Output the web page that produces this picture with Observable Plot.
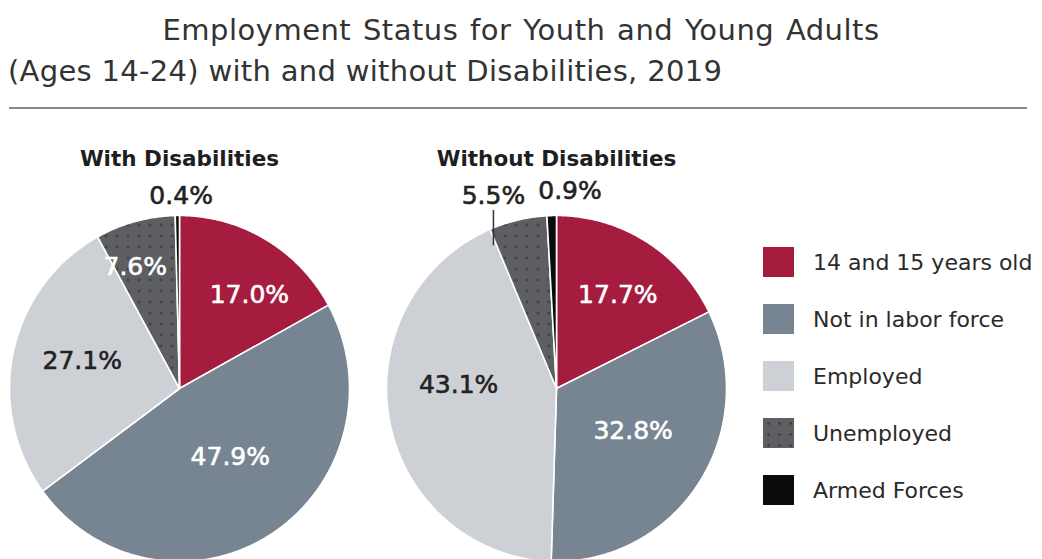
<!DOCTYPE html>
<html>
<head>
<meta charset="utf-8">
<script src="https://cdn.jsdelivr.net/npm/d3@7"></script>
<script src="https://cdn.jsdelivr.net/npm/@observablehq/plot@0.6"></script>
<style>
  html, body { margin: 0; padding: 0; background: #fff; }
  body { width: 1042px; height: 559px; overflow: hidden; position: relative; font-family: "DejaVu Sans", sans-serif; }
  .t1 { position: absolute; left: 0; width: 1042px; top: 16px; text-align: center; font-size: 29px; line-height: 29px; letter-spacing: 0.5px; word-spacing: 2px; color: #333; white-space: nowrap; }
  .t2 { position: absolute; left: 8px; top: 57px; font-size: 29px; line-height: 29px; letter-spacing: 0.3px; color: #333; white-space: nowrap; }
  .rule { position: absolute; left: 9px; top: 107px; width: 1018px; height: 2px; background: #7f8a97; }
  .pie { position: absolute; top: 120px; }
  .legend { position: absolute; left: 763px; top: 0; }
  .legend .row { position: absolute; left: 0; display: flex; align-items: center; white-space: nowrap; }
  .legend .row span { margin-left: 19px; font-size: 22px; color: #2a2a2a; }
  .pie text.lab { paint-order: stroke; }
</style>
</head>
<body>
<svg width="0" height="0" style="position:absolute">
  <defs>
    <pattern id="dots" width="11" height="11" patternUnits="userSpaceOnUse">
      <rect width="11" height="11" fill="#5e5f63"></rect>
      <circle cx="5.5" cy="5.5" r="1.3" fill="#38393c"></circle>
    </pattern>
  </defs>
</svg>
<div class="t1">Employment Status for Youth and Young Adults</div>
<div class="t2">(Ages 14-24) with and without Disabilities, 2019</div>
<div class="rule"></div>
<div id="left" class="pie" style="left:1px"></div>
<div id="right" class="pie" style="left:378px"></div>
<div id="legend" class="legend"></div>
<script>
// ---- data ----
const categories = ["14 and 15 years old", "Not in labor force", "Employed", "Unemployed", "Armed Forces"];
const withDisabilities = [17.0, 47.9, 27.1, 7.6, 0.4];
const withoutDisabilities = [17.7, 32.8, 43.1, 5.5, 0.9];
const labelsWith = ["17.0%", "47.9%", "27.1%", "7.6%", "0.4%"];
const labelsWithout = ["17.7%", "32.8%", "43.1%", "5.5%", "0.9%"];
const pieTitles = ["With Disabilities", "Without Disabilities"];

// ---- styles / layout ----
const fills = ["#a51c3e", "#778491", "#cdd1d6", "url(#dots)", "#0b0b0b"];
const labelColorsWith = ["#fff", "#fff", "#222", "#fff", "#222"];
const labelColorsWithout = ["#fff", "#fff", "#222", "#222", "#222"];
const layoutWith = [
  {r: 0.68, dx: 11, dy: 8}, {r: 0.5, dx: 5, dy: -4}, {r: 0.58, dx: -1, dy: -6},
  {r: 0.727, dx: -12, dy: 0}, {r: 1.115, dx: 4, dy: 0}
];
const layoutWithout = [
  {r: 0.65, dx: 3, dy: 2}, {r: 0.55, dx: -2, dy: -9}, {r: 0.58, dx: -1, dy: -22},
  {r: 1.14, dx: -19, dy: 0, leader: [1.06, 0.85]}, {r: 1.14, dx: 19, dy: 0}
];
const RX = 170, RY = 173, M = 8, MT = 95, MB = 10;

function makePie(values, labels, labelColors, layout, title) {
  const total = d3.sum(values);
  let acc = 0;
  const slices = values.map((v, i) => {
    const a0 = acc / total * 360; acc += v;
    const a1 = acc / total * 360;
    return {cat: categories[i], a0, a1, mid: (a0 + a1) / 2, label: labels[i], color: labelColors[i], ...layout[i]};
  });
  const rad = a => a * Math.PI / 180;
  const pts = [];
  for (const s of slices) {
    const n = Math.max(2, Math.ceil((s.a1 - s.a0) / 0.5));
    pts.push({cat: s.cat, x: 0, y: 0});
    for (let k = 0; k <= n; k++) {
      const a = rad(s.a0 + (s.a1 - s.a0) * k / n);
      pts.push({cat: s.cat, x: Math.sin(a), y: Math.cos(a)});
    }
    pts.push({cat: s.cat, x: 0, y: 0});
  }
  const lab = slices.map(s => ({...s, x: Math.sin(rad(s.mid)) * s.r, y: Math.cos(rad(s.mid)) * s.r}));
  const leaders = lab.filter(s => s.leader).map(s => ({
    x: s.x, y1: Math.cos(rad(s.mid)) * s.leader[0], y2: Math.cos(rad(s.mid)) * s.leader[1], dx: s.dx
  }));
  const marks = [
    Plot.line(pts, {x: "x", y: "y", z: "cat", fill: "cat", stroke: "#fff", strokeWidth: 1.6, strokeLinejoin: "round"}),
    Plot.text([title], {frameAnchor: "top", dy: -65, text: d => d, fontSize: 21.5, fontWeight: "bold", fill: "#1e1e1e"})
  ];
  for (const l of leaders) {
    marks.push(Plot.link([l], {x1: "x", x2: "x", y1: "y1", y2: "y2", dx: l.dx, stroke: "#333", strokeWidth: 1.5}));
  }
  for (const s of lab) {
    marks.push(Plot.text([s], {x: "x", y: "y", text: "label", dx: s.dx, dy: s.dy, fill: s.color,
      stroke: s.color, strokeWidth: 0.6, fontSize: 25, className: "lab"}));
  }
  return Plot.plot({
    width: 2 * RX + 2 * M,
    height: MT + 2 * RY + MB,
    marginLeft: M, marginRight: M, marginTop: MT, marginBottom: MB,
    x: {domain: [-1, 1], axis: null},
    y: {domain: [-1, 1], axis: null},
    color: {domain: categories, range: fills},
    style: {fontFamily: "DejaVu Sans", overflow: "visible", background: "transparent"},
    marks
  });
}

document.getElementById("left").appendChild(makePie(withDisabilities, labelsWith, labelColorsWith, layoutWith, pieTitles[0]));
document.getElementById("right").appendChild(makePie(withoutDisabilities, labelsWithout, labelColorsWithout, layoutWithout, pieTitles[1]));

// legend
const legendTop = 247, legendStep = 57;
const lg = document.getElementById("legend");
categories.forEach((c, i) => {
  const row = document.createElement("div");
  row.className = "row";
  row.style.top = (legendTop + i * legendStep) + "px";
  row.innerHTML = `<svg width="31" height="30"><rect width="31" height="30" fill="${fills[i]}"></rect></svg><span>${c}</span>`;
  lg.appendChild(row);
});
</script>
</body>
</html>
